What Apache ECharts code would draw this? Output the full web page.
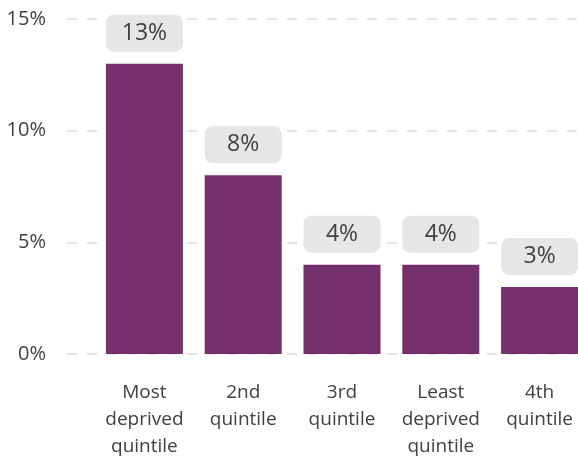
<!DOCTYPE html>
<html>
<head>
<meta charset="utf-8">
<script src="https://cdn.jsdelivr.net/npm/echarts@6/dist/echarts.min.js"></script>
<style>html,body{margin:0;padding:0;background:#fff}#c{width:578px;height:465px}</style>
</head>
<body>
<div id="c"></div>
<script>
const categories = ["Most\ndeprived\nquintile", "2nd\nquintile", "3rd\nquintile", "Least\ndeprived\nquintile", "4th\nquintile"];
const values = [13, 8, 4, 4, 3];
const labels = ["13%", "8%", "4%", "4%", "3%"];
const yTicks = [0, 5, 10, 15];

const font = "Open Sans";
const chart = echarts.init(document.getElementById('c'));
chart.setOption({
  animation: false,
  grid: [
    { left: 67, right: 0, top: 19, bottom: 111 },
    { left: 95, width: 494, top: 19, bottom: 111, outerBoundsMode: 'none' }
  ],
  xAxis: [
    { gridIndex: 0, type: 'category', data: categories, show: false },
    {
      gridIndex: 1, type: 'category', data: categories,
      axisLine: { show: false }, axisTick: { show: false },
      axisLabel: { color: '#404040', fontSize: 19, lineHeight: 27, margin: 25, fontFamily: font, interval: 0 }
    }
  ],
  yAxis: [
    {
      gridIndex: 0, type: 'value', min: 0, max: 15, interval: 5,
      axisLine: { show: false }, axisTick: { show: false },
      axisLabel: { color: '#404040', fontSize: 20, margin: 21, fontFamily: font, formatter: v => v + '%' },
      splitLine: { lineStyle: { color: '#dcdcdc', width: 1.5, type: [10, 10] } }
    },
    { gridIndex: 1, type: 'value', min: 0, max: 15, interval: 5, show: false, splitLine: { show: false } }
  ],
  series: [{
    type: 'bar', xAxisIndex: 1, yAxisIndex: 1,
    data: values, barWidth: 77,
    itemStyle: { color: '#76306C' },
    label: {
      show: true, position: 'top', distance: 12,
      formatter: p => labels[p.dataIndex],
      backgroundColor: '#e6e6e6', borderRadius: 8,
      width: 77, height: 37, lineHeight: 37, align: 'center',
      color: '#404040', fontSize: 23, fontFamily: font
    }
  }]
});
</script>
</body>
</html>
